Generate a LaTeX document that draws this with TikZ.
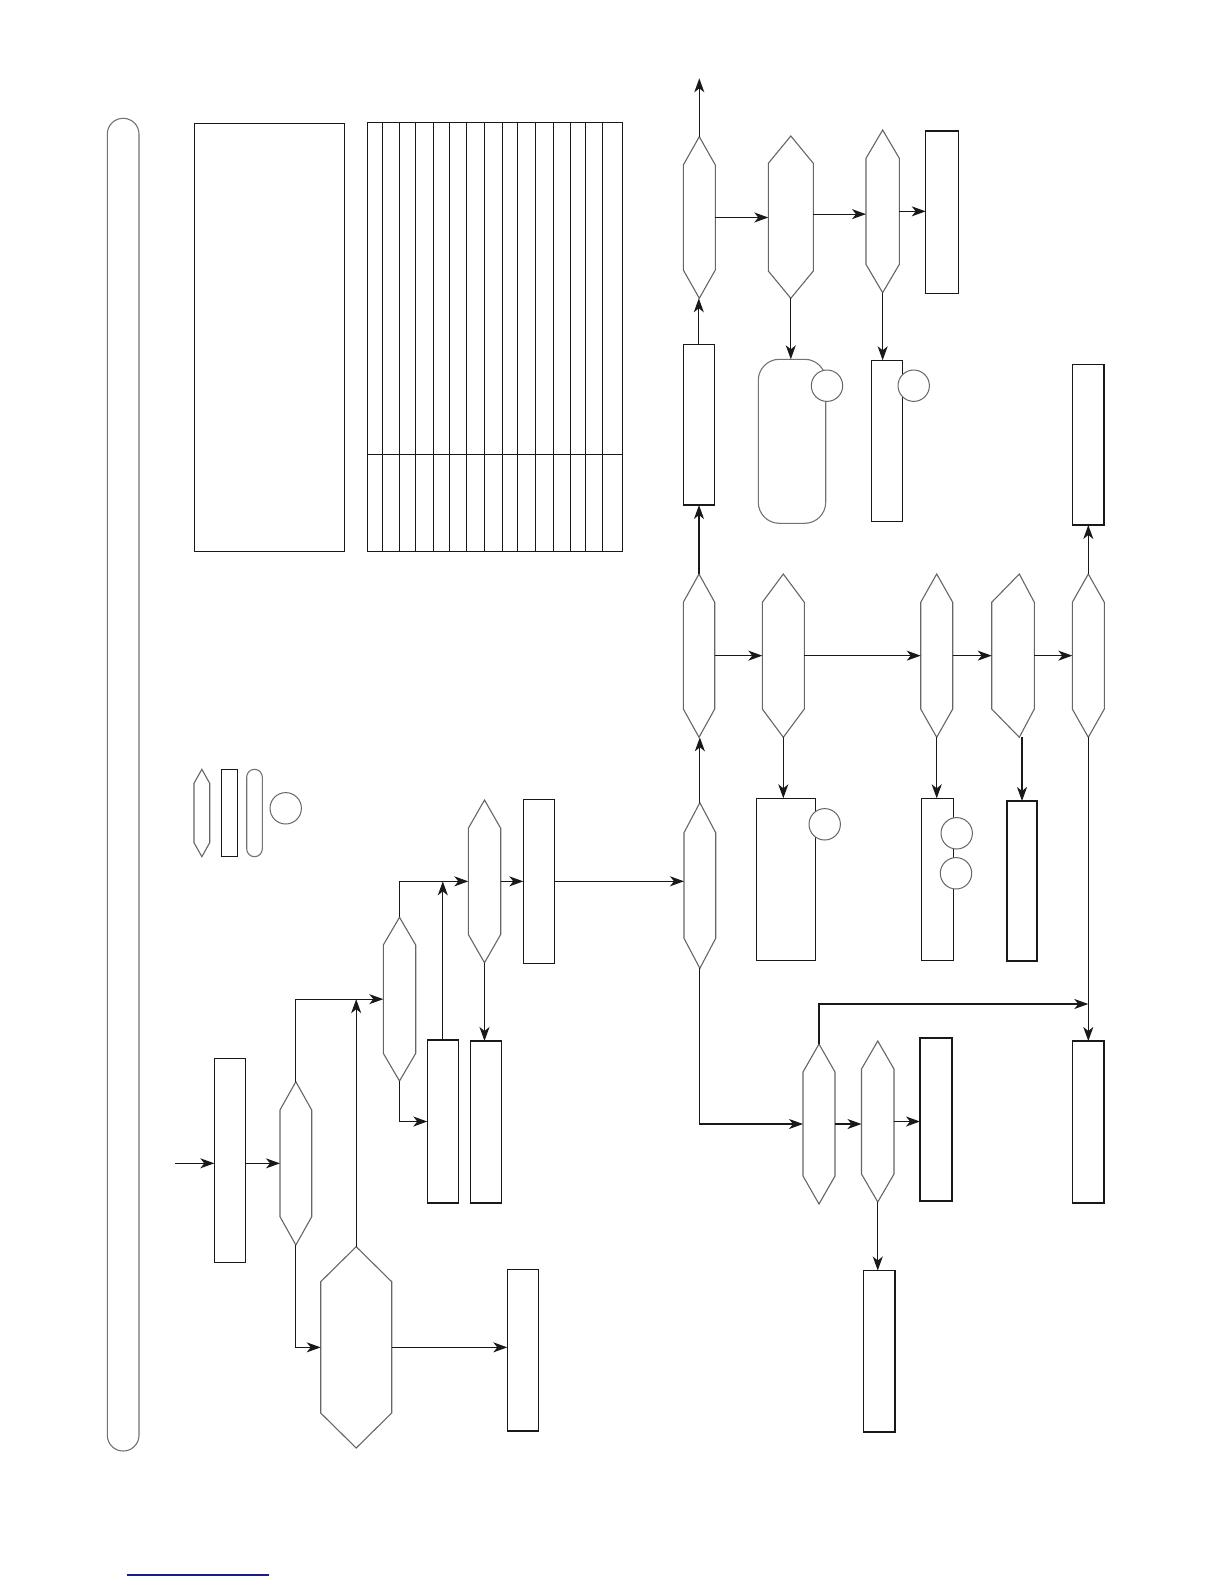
\documentclass[tikz,border=0pt]{standalone}
\usetikzlibrary{arrows.meta,calc,fit}
\begin{document}
\begin{tikzpicture}[x=0.5pt,y=-0.5pt,
  hexbox/.style={inner sep=0pt,outer sep=0pt,draw=none},
  hexline/.style={draw=black!60,line width=0.55pt,line join=miter},
  rectbox/.style={draw=black!90,line width=0.65pt,inner sep=0pt,outer sep=0pt,fill=white},
  roundbox/.style={draw=black!55,line width=0.55pt,inner sep=0pt,outer sep=0pt},
  circ/.style={circle,draw=black!60,line width=0.5pt,fill=white,minimum size=15.7pt,inner sep=0pt,outer sep=0pt},
  arr/.style={-{Stealth[length=7pt,width=5pt,inset=2pt]},line width=0.6pt,draw=black!90},
  tline/.style={draw=black!90,line width=0.6pt}]
\newcommand\hexnode[7]{%
  \node[hexbox,fit={(#2,#3) (#4,#5)}] (#1) {};
  \draw[hexline] ($(#1.north)+(#7,0)$) -- ($(#1.north east)+(0,#6)$) -- ($(#1.south east)+(0,-#6)$) -- ($(#1.south)+(#7,0)$) -- ($(#1.south west)+(0,-#6)$) -- ($(#1.north west)+(0,#6)$) -- cycle;}
\newcommand\rectnode[5]{\node[rectbox,fit={(#2,#3) (#4,#5)}] (#1) {};}
\useasboundingbox (0,0) rectangle (1224,1584);
% outer pill
\node[roundbox,rounded corners=7.9pt,fit={(107.3,118.3) (139,1451)}] (pill) {};
% left block and table
\rectnode{LB}{194.3}{123.3}{344.3}{551.3}
\rectnode{TB}{367.3}{122.3}{622.3}{551.3}
\foreach \x in {382.3,399.3,415.3,433.3,449.3,466.3,484.3,502.3,517.3,535.3,553.3,570.3,585.3,602.3}
  \draw[tline] (\x,122.3) -- (\x,551.3);
\draw[tline] (TB.west |- 0,454.3) -- (TB.east |- 0,454.3);
% legend
\hexnode{L1}{194}{769.3}{209.7}{856.7}{14}{0}
\rectnode{L2}{221.3}{769.3}{237.3}{856.7}
\node[roundbox,rounded corners=3.9pt,fit={(246.7,769.3) (262.3,856.7)}] (L3) {};
\node[circ] (L4) at (285.7,808.3) {};
% hexagons
\hexnode{D1}{280}{1081.7}{311.7}{1245}{28.3}{0}
\hexnode{D2}{383.3}{917.3}{415.7}{1081}{27.7}{0}
\hexnode{D3}{468.3}{800}{500.7}{962.7}{28.3}{0}
\hexnode{D4}{684}{802.7}{715.7}{968.3}{30}{0}
\hexnode{D5}{683.3}{574}{714.7}{737.3}{28.3}{0}
\hexnode{D6}{762.3}{574}{804.3}{737.3}{28.3}{0}
\hexnode{D7}{920.7}{574}{952.7}{737.3}{28.3}{0}
\hexnode{D8}{991.7}{574}{1034.3}{737.3}{28.3}{6.3}
\hexnode{D9}{1072.3}{574}{1104.3}{737.3}{28.3}{0}
\hexnode{D10}{683.3}{136.7}{715.3}{298.3}{28.3}{0}
\hexnode{D11}{768.3}{136}{813.3}{298.3}{27.3}{0}
\hexnode{D12}{866}{130}{899.3}{292.7}{28.3}{0}
\hexnode{D13}{803}{1044}{835}{1204}{28}{0}
\hexnode{D14}{861.5}{1041}{894}{1202}{28}{0}
\hexnode{D0}{320.7}{1246.7}{391.7}{1448}{35}{0}
% rectangles
\rectnode{R1}{214.3}{1058.3}{245.3}{1262.7}
\rectnode{R2}{427.3}{1040}{458.3}{1203}
\rectnode{R3}{470.3}{1041}{501.3}{1203}
\rectnode{R4}{523.3}{799.3}{554.3}{963.3}
\rectnode{R5}{683.3}{344.3}{714.3}{505}
\rectnode{R6}{925.7}{131}{958.3}{293.3}
\rectnode{R7}{871.7}{360.3}{902.3}{521.7}
\rectnode{R8}{756.7}{798.3}{815.7}{960.3}
\rectnode{R9}{921.7}{798.3}{953.3}{960.3}
\rectnode{R10}{1007}{801}{1037}{961}
\rectnode{R11}{1072.5}{364.6}{1104}{525}
\rectnode{R12}{1072.5}{1041}{1104}{1203}
\rectnode{R13}{920}{1038}{952}{1201}
\rectnode{R14}{863.5}{1270.5}{895}{1432}
\rectnode{R15}{507.3}{1269.3}{538.7}{1431}
\node[roundbox,rounded corners=10.5pt,fit={(758.3,359.3) (825.7,523.3)}] (RR) {};
% circles
\node[circ] (C1) at (827,385.7) {};
\node[circ] (C2) at (913.7,385.7) {};
\node[circ] (C3) at (824.7,824.3) {};
\node[circ] (C4) at (956.7,833.3) {};
\node[circ] (C5) at (956,873.3) {};
% connectors
\coordinate (in0) at (175,1163.3);
\draw[arr] (in0) -- (in0 -| R1.west);
\draw[arr] (D1.west -| R1.east) -- (D1.west);
\draw[arr] (D1.north) |- (D2.west);
\draw[arr] (D0.north) -- (D0.north |- D2.west);
\draw[arr] (D1.south) |- (D0.west);
\draw[arr] (D0.east) -- (D0.east -| R15.west);
\draw[arr] (D2.north) |- (D3.west);
\draw[arr] (D2.south) |- (R2.west);
\draw[arr] (R2.north) -- (R2.north |- D3.west);
\draw[arr] (D3.south) -- (D3.south |- R3.north);
\draw[arr] (D3.east) -- (D3.east -| R4.west);
\draw[arr] (R4.east) -- (R4.east -| D4.west);
\draw[arr] (D4.north) -- (D4.north |- D5.south);
\draw[arr] (D5.north) -- (D5.north |- R5.south);
\draw[arr] (R5.north) -- (R5.north |- D10.south);
\coordinate (out0) at (699.3,78.3);
\draw[arr] (D10.north) -- (out0);
\draw[arr] (D10.east) -- (D10.east -| D11.west);
\draw[arr] ($(D11.east)+(0,-3)$) -- ($(D11.east -| D12.west)+(0,-3)$);
\draw[arr] (D12.east) -- (D12.east -| R6.west);
\draw[arr] (D11.south) -- (D11.south |- RR.north);
\draw[arr] (D12.south) -- (D12.south |- R7.north);
\draw[arr] (D5.east) -- (D5.east -| D6.west);
\draw[arr] (D6.east) -- (D6.east -| D7.west);
\draw[arr] (D7.east) -- (D7.east -| D8.west);
\draw[arr] (D8.east) -- (D8.east -| D9.west);
\draw[arr] (D6.south) -- (D6.south |- R8.north);
\draw[arr] (D7.south) -- (D7.south |- R9.north);
\draw[arr] (R10.north |- D8.south) -- (R10.north);
\draw[arr] (D9.north) -- (D9.north |- R11.south);
\draw[arr] (D9.south) -- (D9.south |- R12.north);
\draw[arr] (D4.south) |- (D13.west);
\coordinate (j1) at (1088.3,1004);
\draw[arr] (D13.north) |- (j1);
\draw[arr] (D13.east) -- (D13.east -| D14.west);
\draw[arr] (D14.east) -- (D14.east -| R13.west);
\draw[arr] (D14.south) -- (D14.south |- R14.north);
% bottom blue rule
\coordinate (b1) at (126.7,1575);
\coordinate (b2) at (269,1575);
\draw[draw={rgb,255:red,20;green,30;blue,140},line width=0.7pt] (b1) -- (b2);
\end{tikzpicture}
\end{document}
